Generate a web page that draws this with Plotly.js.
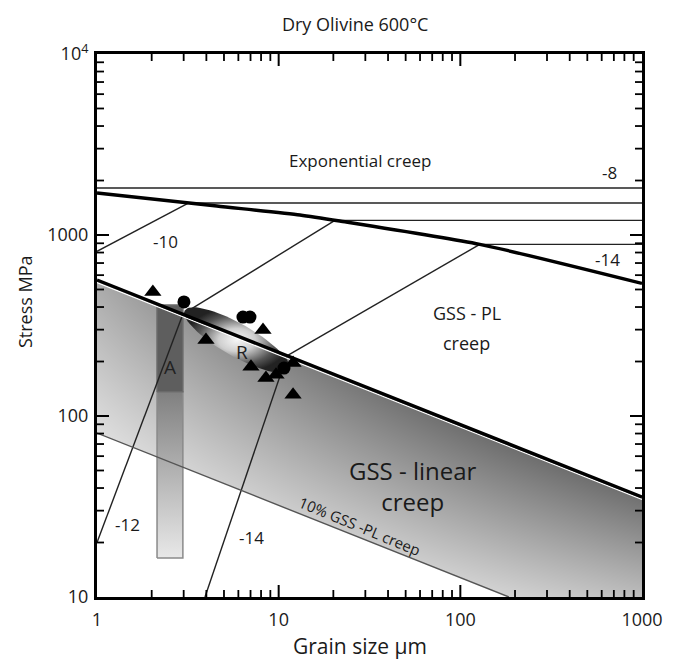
<!DOCTYPE html>
<html><head><meta charset="utf-8">
<script src="https://cdn.plot.ly/plotly-3.0.1.min.js"></script>
<style>html,body{margin:0;padding:0;background:#fff}#chart{width:674px;height:659px}</style>
</head><body><div id="chart"></div>
<script>
// ---- axis limits and ticks ----
const xLimits = [1, 1000];          // grain size, µm
const yLimits = [10, 10000];        // stress, MPa
const xTickVals = [1, 10, 100, 1000];
const xTickText = ['1', '10', '100', '1000'];
const yTickVals = [10, 100, 1000, 10000];
const yTickText = ['10', '100', '1000', '10<sup>4</sup>'];
const xMinorVals = [2, 3, 4, 5, 6, 7, 8, 9, 20, 30, 40, 50, 60, 70, 80, 90, 200, 300, 400, 500, 600, 700, 800, 900];
const yMinorVals = [20, 30, 40, 50, 60, 70, 80, 90, 200, 300, 400, 500, 600, 700, 800, 900, 2000, 3000, 4000, 5000, 6000, 7000, 8000, 9000];

// ---- field boundaries ----
const linBoundaryX = [1, 1000];                 // GSS-linear / GSS-PL boundary
const linBoundaryY = [564, 35.7];
const expBoundaryX = [1, 4.57, 13.1, 21.7, 128, 1000];   // GSS-PL / exponential boundary
const expBoundaryY = [1706, 1445, 1290, 1195, 888, 540];
const tenPctX = [1, 185];                       // 10% GSS-PL creep
const tenPctY = [80.5, 10];

// ---- strain-rate contours (log10 1/s) ----
const expContours = [                           // exponential creep field
  {label: '-8',  x: [1, 1000],    y: [1820, 1820]},
  {label: '-10', x: [3.2, 1000],  y: [1503, 1503]},
  {label: '-12', x: [20.4, 1000], y: [1205, 1205]},
  {label: '-14', x: [128, 1000],  y: [888, 888]}
];
const plContours = [                            // GSS-PL field
  {label: '-10', x: [1, 3.2],     y: [813, 1503]},
  {label: '-12', x: [2.97, 20.4], y: [365, 1205]},
  {label: '-14', x: [11.1, 128],  y: [215, 888]}
];
const linContours = [                           // GSS-linear field
  {label: '-12', x: [1, 2.97],    y: [20, 365]},
  {label: '-14', x: [3.93, 11.1], y: [10, 215]}
];

// ---- observations ----
const triX = [2.03, 3.98, 8.2, 7.04, 8.51, 9.67, 12.0, 12.0];
const triY = [484, 263, 299, 187, 162, 169, 131, 196];
const dotX = [3.01, 6.36, 6.95, 10.7];
const dotY = [427, 352, 352, 184];

// sample A: grain-size bar
const barAX = [2.14, 2.97];
const barAY = [16.4, 136, 410];
// sample R: ellipse (centre, semi-axes in decades, tilt in degrees)
const ellR = {cx: 5.89, cy: 263, a: 0.33, b: 0.09, tilt: -29.7};

// shading of GSS-linear field (grey level at corners)
const shadeX = [1, 1000];
const shadeY = [10, 600];
const shadeZ = [[280, 190], [168, -60]];

// ---------------------------------------------------------
const L = Math.log10;
const W = 674, H = 659;
const MARGIN = {l: 97, r: 32, t: 54, b: 62};
const xRange = [L(xLimits[0]), L(xLimits[1])];
const yRange = [L(yLimits[0]), L(yLimits[1])];
const traces = [];
traces.push({type: 'heatmap', x: shadeX, y: shadeY, z: shadeZ, zsmooth: 'best',
  colorscale: [[0, '#000'], [1, '#fff']], zmin: 0, zmax: 255, showscale: false, hoverinfo: 'skip'});
// white masks outside the shaded field
traces.push({x: linBoundaryX.concat([xLimits[1], xLimits[0]]), y: linBoundaryY.concat([yLimits[1], yLimits[1]]),
  mode: 'lines', fill: 'toself', fillcolor: '#ffffff', line: {width: 0}, hoverinfo: 'skip'});
traces.push({x: tenPctX.concat([xLimits[0]]), y: tenPctY.concat([yLimits[0]]),
  mode: 'lines', fill: 'toself', fillcolor: '#ffffff', line: {width: 0}, hoverinfo: 'skip'});
// bar A
traces.push({x: [barAX[0], barAX[1], barAX[1], barAX[0], barAX[0]], y: [barAY[0], barAY[0], barAY[1], barAY[1], barAY[0]],
  mode: 'lines', fill: 'toself', fillgradient: {type: 'vertical', colorscale: [[0, '#e8e8e8'], [1, '#808080']]},
  line: {color: '#8a8a8a', width: 1.5}, hoverinfo: 'skip'});
traces.push({x: [barAX[0], barAX[1], barAX[1], barAX[0], barAX[0]], y: [barAY[1], barAY[1], barAY[2], barAY[2], barAY[1]],
  mode: 'lines', fill: 'toself', fillcolor: '#5e5e5e', line: {color: '#6a6a6a', width: 1.5}, hoverinfo: 'skip'});
// ellipse R
(function () {
  const ex = [], ey = [];
  const t = ellR.tilt * Math.PI / 180;
  for (let i = 0; i <= 72; i++) {
    const p = 2 * Math.PI * i / 72;
    const u = ellR.a * Math.cos(p), v = ellR.b * Math.sin(p);
    ex.push(Math.pow(10, L(ellR.cx) + u * Math.cos(t) - v * Math.sin(t)));
    ey.push(Math.pow(10, L(ellR.cy) + u * Math.sin(t) + v * Math.cos(t)));
  }
  traces.push({x: ex, y: ey, mode: 'lines', fill: 'toself',
    fillgradient: {type: 'radial', colorscale: [[0, '#f6f6f6'], [0.35, '#cfcfcf'], [0.75, '#555555'], [1, '#222222']]},
    line: {width: 0}, hoverinfo: 'skip'});
})();
// contours
expContours.concat(plContours, linContours).forEach(c => {
  traces.push({x: c.x, y: c.y, mode: 'lines', line: {color: '#222', width: 1.4}, hoverinfo: 'skip'});
});
traces.push({x: tenPctX, y: tenPctY, mode: 'lines', line: {color: '#555', width: 1.4}, hoverinfo: 'skip'});
// boundaries
traces.push({x: linBoundaryX, y: linBoundaryY.map(v => v * 0.968), mode: 'lines', line: {color: '#fff', width: 1.2}, hoverinfo: 'skip'});
traces.push({x: linBoundaryX, y: linBoundaryY, mode: 'lines', line: {color: '#000', width: 3.4}, hoverinfo: 'skip'});
traces.push({x: expBoundaryX, y: expBoundaryY, mode: 'lines', line: {color: '#000', width: 3.4, shape: 'spline', smoothing: 0.6}, hoverinfo: 'skip'});
// points
traces.push({x: triX, y: triY, mode: 'markers', marker: {symbol: 'triangle-up', size: 15, color: '#000'}, hoverinfo: 'skip'});
traces.push({x: dotX, y: dotY, mode: 'markers', marker: {symbol: 'circle', size: 13, color: '#000'}, hoverinfo: 'skip'});

// inward tick marks on all four sides, one short segment per tick value on the log scales
const pxPerDecX = (W - MARGIN.l - MARGIN.r) / (xRange[1] - xRange[0]);
const pxPerDecY = (H - MARGIN.t - MARGIN.b) / (yRange[1] - yRange[0]);
function addTicks(xv, yv, lenPx, width) {
  const fy = Math.pow(10, lenPx / pxPerDecY), fx = Math.pow(10, lenPx / pxPerDecX);
  const st = {mode: 'lines', line: {color: '#000', width: width}, hoverinfo: 'skip', cliponaxis: false};
  xv.forEach(v => {
    traces.push(Object.assign({x: [v, v], y: [yLimits[0], yLimits[0] * fy]}, st));
    traces.push(Object.assign({x: [v, v], y: [yLimits[1], yLimits[1] / fy]}, st));
  });
  yv.forEach(v => {
    traces.push(Object.assign({x: [xLimits[0], xLimits[0] * fx], y: [v, v]}, st));
    traces.push(Object.assign({x: [xLimits[1], xLimits[1] / fx], y: [v, v]}, st));
  });
}
addTicks(xMinorVals, yMinorVals, 7, 1.8);
addTicks(xTickVals.slice(1, -1), yTickVals.slice(1, -1), 12, 2);

const F = 'Open Sans, Noto Sans, sans-serif';
const INK = '#1a1a1a';
function ann(text, x, y, size, extra) {
  return Object.assign({text: text, x: L(x), y: L(y), xref: 'x', yref: 'y', showarrow: false,
    font: {family: F, size: size, color: INK}}, extra || {});
}
const annotations = [
  ann('Exponential creep', 28, 2594, 17),
  ann('-8', 666, 2203, 17),
  ann('-14', 649, 728, 17),
  ann('-10', 2.37, 915, 17),
  ann('-12', 1.48, 25, 17),
  ann('-14', 7.13, 21.4, 17),
  ann('GSS - PL', 108.7, 371, 18),
  ann('creep', 108.7, 253, 18),
  ann('GSS - linear<br>creep', 54.8, 41, 24),
  ann('10% GSS -PL creep', 28, 24.7, 15, {textangle: 22.5}),
  ann('R', 6.28, 226, 19, {font: {family: F, size: 19, color: '#222'}}),
  ann('A', 2.52, 186, 19, {font: {family: F, size: 19, color: '#222'}}),
  {text: 'Grain size µm', xref: 'paper', yref: 'paper', x: 0.4826, y: -0.09, xanchor: 'center', yanchor: 'middle',
    showarrow: false, font: {family: F, size: 21, color: INK}},
  {text: 'Stress MPa', xref: 'paper', yref: 'paper', x: -0.132, y: 0.5433, xanchor: 'center', yanchor: 'middle',
    textangle: -90, showarrow: false, font: {family: F, size: 18, color: INK}}
];

const axisCommon = {type: 'log', showgrid: false, zeroline: false, showline: true, linewidth: 3, linecolor: '#000',
  mirror: true, ticks: '', tickmode: 'array', tickfont: {family: F, size: 18, color: INK}};
const layout = {
  width: W, height: H, margin: MARGIN,
  paper_bgcolor: '#fff', plot_bgcolor: '#fff', showlegend: false,
  font: {family: F, color: INK},
  title: {text: 'Dry Olivine 600°C', x: 0.527, xanchor: 'center', y: 0.962, yanchor: 'middle', font: {family: F, size: 18, color: INK}},
  xaxis: Object.assign({}, axisCommon, {range: xRange, tickvals: xTickVals, ticktext: xTickText, ticklabelstandoff: 4}),
  yaxis: Object.assign({}, axisCommon, {range: yRange, tickvals: yTickVals, ticktext: yTickText, ticklabelstandoff: 2}),
  annotations: annotations
};
Plotly.newPlot('chart', traces, layout, {displayModeBar: false});
</script></body></html>
